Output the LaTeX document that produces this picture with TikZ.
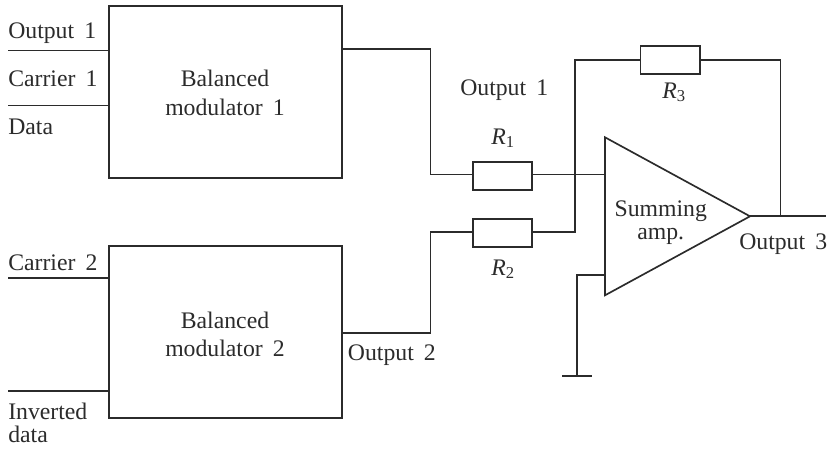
\documentclass[tikz,border=0pt]{standalone}
\usepackage{fontspec}
\setmainfont[WordSpace=1.7]{Liberation Serif}
\usepackage{tikz}
\usetikzlibrary{calc,positioning,shapes.geometric}
\definecolor{ink}{HTML}{2B2B2B}
\tikzset{
  wire/.style={draw=ink,line width=1.25pt},
  modbox/.style={draw=ink,line width=1.25pt,minimum width=174.75pt,minimum height=129pt,inner sep=0pt,outer sep=0pt},
  resbox/.style={draw=ink,line width=1.25pt,minimum width=44.5pt,minimum height=21pt,inner sep=0pt,outer sep=0pt},
  ampbox/.style={isosceles triangle,isosceles triangle stretches,draw=ink,line width=1.25pt,minimum width=118.5pt,minimum height=108.75pt,inner sep=0pt,outer sep=0pt},
  lab/.style={text=ink,font=\fontsize{17.8}{20}\selectfont,inner sep=0pt,anchor=base west},
  clab/.style={lab,anchor=base}
}
\begin{document}
\begin{tikzpicture}[x=0.75pt,y=-0.75pt]
\useasboundingbox (0,0) rectangle (830,451);
\node[modbox] (box1) at (225.5,92) {};
\node[modbox] (box2) at (225.5,331.7) {};
\node[resbox] (r1) at (502.5,175.7) {};
\node[resbox] (r2) at (502.5,233) {};
\node[resbox] (r3) at (670,60.2) {};
\node[ampbox,anchor=lower side] (amp) at (605,216.3) {};
\coordinate (in1) at (8,50.5); \coordinate (in2) at (8,105.5);
\coordinate (in3) at (8,277.7); \coordinate (in4) at (8,390.7);
\coordinate (o1) at (342.5,49); \coordinate (o2) at (342.5,332.7);
\coordinate (bend1) at (430.5,174.4); \coordinate (bend2) at (430.5,231.7);
\coordinate (fb) at (575,60.2); \coordinate (tap) at (780.5,216.3);
\coordinate (out) at (826,216.3);
\coordinate (gnd) at (577,376); \coordinate (gl) at (562,376); \coordinate (gr) at (592,376);
\foreach \p/\q in {in1/box1,in2/box1,in3/box2,in4/box2} \draw[wire] (\p) -- (\q.west |- \p);
\draw[wire] (o1) -| (bend1) -- (r1.west |- bend1);
\draw[wire] (o2) -| (bend2) -- (r2.west |- bend2);
\draw[wire] (r1.east |- bend1) -- (amp.lower side |- bend1);
\draw[wire] (r2.east |- bend2) -| (fb) -- (r3.west);
\draw[wire] (r3.east) -| (tap);
\draw[wire] (amp.apex) -- (out);
\draw[wire] (amp.lower side |- 0,275) -| (gnd);
\draw[wire] (gl) -- (gr);
\node[lab] (t1) at (8,38) {Output 1};
\node[lab] (t2) at (8,86) {Carrier 1};
\node[lab] (t3) at (8,134) {Data};
\node[lab] (t4) at (8,270) {Carrier 2};
\node[lab] (t5) at (8,419) {Inverted};
\node[lab] (t6) at (8,442.7) {data};
\node[clab] (m1a) at (225,86) {Balanced};
\node[clab] (m1b) at (225,115) {modulator 1};
\node[clab] (m2a) at (225,328) {Balanced};
\node[clab] (m2b) at (225,356.7) {modulator 2};
\node[lab] (t7) at (460,95) {Output 1};
\node[lab] (t8) at (347.7,360) {Output 2};
\node[lab] (t9) at (739,249) {Output 3};
\node[clab] (sa) at (660.7,216.7) {Summing};
\node[clab] (sb) at (660.7,239) {amp.};
\node[clab] (l1) at (503,144) {\textit{R}\textsubscript{1}};
\node[clab] (l2) at (503,275) {\textit{R}\textsubscript{2}};
\node[clab] (l3) at (674,98) {\textit{R}\textsubscript{3}};
\end{tikzpicture}
\end{document}
